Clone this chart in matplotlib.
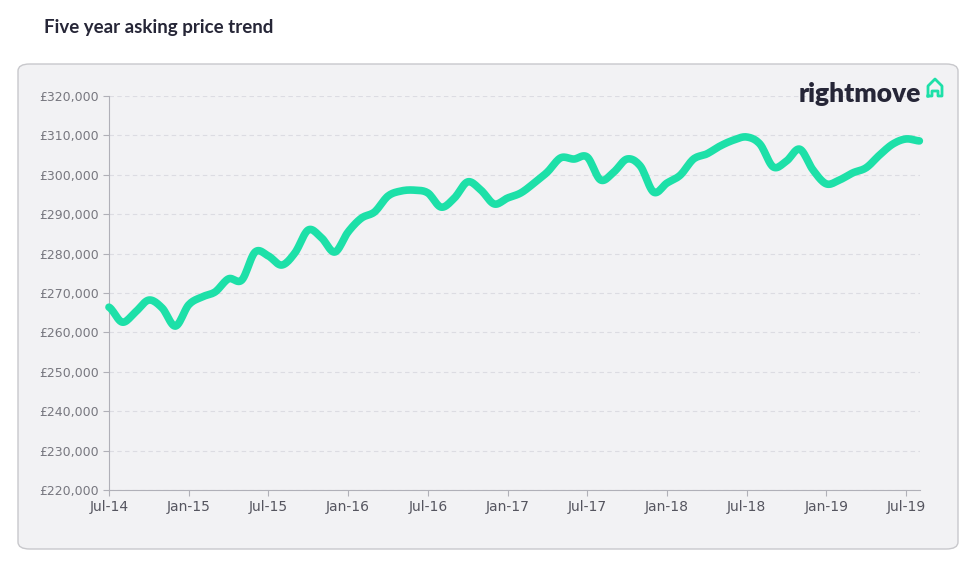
import matplotlib.pyplot as plt
import numpy as np
from matplotlib.patches import FancyBboxPatch

# monthly asking price, Jul-14 .. Aug-19
prices = [266400, 262600, 265200, 268200, 266200, 261600, 267000, 269000, 270300, 273600,
          273300, 280400, 279400, 277100, 280200, 286000, 284000, 280400, 285500, 289000,
          290600, 294600, 295900, 296100, 295400, 291800, 294100, 298200, 296100, 292600,
          294100, 295400, 297900, 300700, 304300, 304000, 304500, 298700, 300700, 304000,
          302200, 295600, 297900, 299900, 304000, 305300, 307300, 308800, 309600, 307800,
          302000, 303500, 306500, 301200, 297700, 298700, 300500, 301800, 305000, 307800,
          309100, 308600]
tick_labels = ['Jul-14', 'Jan-15', 'Jul-15', 'Jan-16', 'Jul-16', 'Jan-17',
               'Jul-17', 'Jan-18', 'Jul-18', 'Jan-19', 'Jul-19']
y_ticks = list(range(220000, 330000, 10000))

W, H = 974, 577
fig = plt.figure(figsize=(W / 100, H / 100), dpi=100)
fig.patch.set_facecolor('white')

# rounded grey panel
panel = FancyBboxPatch((18 / W, 1 - 549 / H), 940 / W, 485 / H,
                       boxstyle='round,pad=0,rounding_size=0.012',
                       transform=fig.transFigure, facecolor='#f2f2f4',
                       edgecolor='#c8c8cc', linewidth=1, zorder=-5)
fig.patches.append(panel)

fig.text(44 / W, 1 - 27 / H, 'Five year asking price trend', fontsize=13.5,
         fontweight='bold', color='#262637', va='center', family='Lato')

ax = fig.add_axes([109 / W, 1 - 490 / H, (920 - 109) / W, (490 - 96) / H])
ax.set_facecolor('none')

# smooth the monthly line (Catmull-Rom) for display only
x = np.arange(len(prices))
y = np.array(prices, dtype=float)
xs, ys = [], []
p = np.concatenate([[y[0]], y, [y[-1]]])
for i in range(len(y) - 1):
    t = np.linspace(0, 1, 12, endpoint=False)
    p0, p1, p2, p3 = p[i], p[i + 1], p[i + 2], p[i + 3]
    ys.extend(0.5 * (2 * p1 + (-p0 + p2) * t + (2 * p0 - 5 * p1 + 4 * p2 - p3) * t ** 2
                     + (-p0 + 3 * p1 - 3 * p2 + p3) * t ** 3))
    xs.extend(i + t)
xs.append(x[-1]); ys.append(y[-1])
ax.plot(xs, ys, color='#1de0a8', linewidth=5.5, solid_capstyle='round',
        solid_joinstyle='round', clip_on=False, zorder=3)

ax.set_xlim(0, 61.05)
ax.set_ylim(220000, 320000)
ax.set_yticks(y_ticks)
ax.set_yticklabels(['£{:,}'.format(v) for v in y_ticks])
ax.set_xticks(np.arange(0, 61, 6))
ax.set_xticklabels(tick_labels)
ax.grid(axis='y', color='#dcdce2', linestyle=(0, (4, 3)), linewidth=0.8)
for s in ['top', 'right']:
    ax.spines[s].set_visible(False)
ax.spines['left'].set_color('#b0b0b8')
ax.spines['bottom'].set_color('#b0b0b8')
ax.tick_params(axis='y', colors='#b0b0b8', labelcolor='#77777f', labelsize=9, length=4)
ax.tick_params(axis='x', colors='#b0b0b8', labelcolor='#55555f', labelsize=10, length=4)

# logo
fig.text(921 / W, 1 - 94 / H, 'rightmove', fontsize=19, fontweight='heavy',
         color='#262637', ha='right', va='center', family='Lato')
hx, hy = 935, 87
house = np.array([[hx - 7, hy + 9], [hx - 7, hy - 1], [hx, hy - 8], [hx + 7, hy - 1],
                  [hx + 7, hy + 9], [hx + 3, hy + 9], [hx + 3, hy + 4], [hx - 3, hy + 4],
                  [hx - 3, hy + 9], [hx - 7, hy + 9]])
fig.lines.append(plt.Line2D(house[:, 0] / W, 1 - house[:, 1] / H, transform=fig.transFigure,
                            color='#1de0a8', linewidth=2, solid_joinstyle='round'))

fig.savefig('out.png', dpi=100)
